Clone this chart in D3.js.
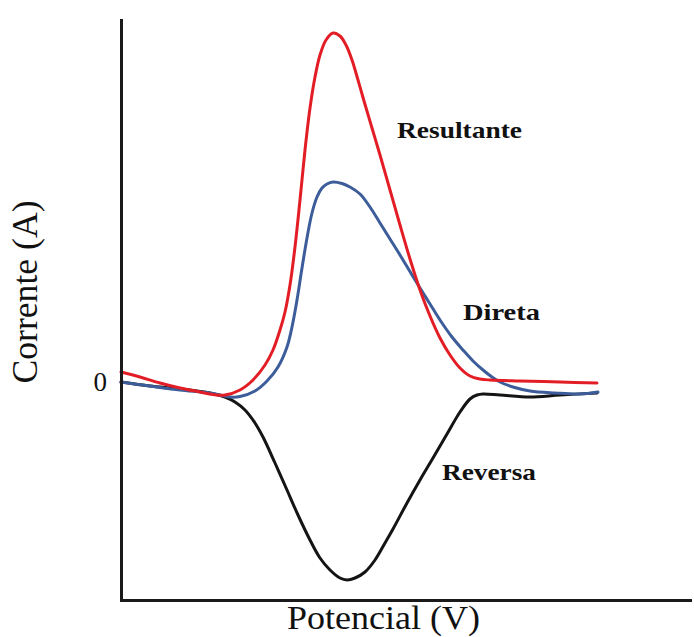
<!DOCTYPE html>
<html>
<head>
<meta charset="utf-8">
<script src="https://cdn.jsdelivr.net/npm/d3@7"></script>
<style>
  html, body { margin: 0; padding: 0; background: #fff; }
  svg { display: block; }
  text { font-family: "Liberation Serif", "Times New Roman", serif; fill: #111; }
</style>
</head>
<body>
<svg id="chart" width="694" height="637"></svg>
<script>
// Square-wave voltammogram: forward (Direta), reverse (Reversa) and net (Resultante) currents.
// Potential in arbitrary mV offsets, current in arbitrary units (0 = baseline).
const resultantePotential = [0, 19, 39, 59, 79, 92, 104, 119, 132, 144, 152, 159, 164, 169, 174, 179, 184, 189, 194, 199, 205, 212, 219, 225, 231, 237, 243, 251, 259, 269, 279, 289, 299, 309, 319, 329, 339, 349, 359, 369, 399, 439, 476];
const resultanteCurrent   = [10, 5, -1, -6, -10, -12.5, -13, -8, 2, 17, 32, 52, 70, 97, 135, 182, 232, 274, 305, 327, 342, 349, 346, 337, 322, 302, 281, 254, 227, 192, 157, 123, 92, 66, 44, 27, 14, 6, 3, 2, 1, 0, -1];

const diretaPotential = [0, 29, 59, 89, 109, 119, 134, 146, 157, 166, 171, 176, 181, 186, 191, 196, 201, 206, 212, 221, 229, 239, 249, 259, 269, 279, 291, 299, 309, 319, 331, 342, 352, 362, 371, 379, 392, 409, 434, 459, 477];
const diretaCurrent   = [0, -4, -8, -11, -15, -14.5, -9, 1, 15, 35, 55, 82, 114, 144, 169, 185, 194, 198, 200, 198.5, 195, 188, 175, 159, 143, 127, 107, 94, 78, 62, 45, 32, 21, 12, 5, 0, -5, -9, -11, -12, -10];

const reversaPotential = [0, 29, 59, 89, 104, 114, 124, 134, 142, 154, 166, 177, 189, 199, 209, 219, 226, 234, 244, 254, 264, 272, 286, 299, 312, 326, 339, 349, 356, 362, 379, 409, 439, 476];
const reversaCurrent   = [0, -4, -7, -11, -15, -20, -28, -41, -55, -81, -108, -133, -158, -176, -188, -196, -198, -196, -190, -178, -161, -147, -121, -98, -76, -52, -30, -17, -13, -12, -13, -15, -13, -11];

const yTickValues  = [0];
const xAxisTitle   = "Potencial (V)";
const yAxisTitle   = "Corrente (A)";

// Curve labels, anchored in data coordinates
const labelNames     = ["Resultante", "Direta", "Reversa"];
const labelPotential = [276, 342, 321];
const labelCurrent   = [244, 62, -98];

const svg = d3.select("#chart");

const x = d3.scaleLinear().domain([0, 569]).range([121, 690]);
const y = d3.scaleLinear().domain([-218, 362]).range([600, 20]);

const series = [
  { name: "Reversa",    xs: reversaPotential,    ys: reversaCurrent,    color: "#141414" },
  { name: "Direta",     xs: diretaPotential,     ys: diretaCurrent,     color: "#3c5d9a" },
  { name: "Resultante", xs: resultantePotential, ys: resultanteCurrent, color: "#e31d25" }
];

const line = d3.line()
  .x(d => x(d[0]))
  .y(d => y(d[1]))
  .curve(d3.curveCatmullRom.alpha(0.5));

svg.append("g")
  .selectAll("path")
  .data(series)
  .join("path")
  .attr("d", s => line(s.xs.map((v, i) => [v, s.ys[i]])))
  .attr("fill", "none")
  .attr("stroke", s => s.color)
  .attr("stroke-width", 3)
  .attr("stroke-linejoin", "round")
  .attr("stroke-linecap", "round");

// Axes: plain frame lines, only the zero level is labelled
const yAxis = svg.append("g")
  .attr("transform", `translate(${x(0)},0)`)
  .call(d3.axisLeft(y).tickValues(yTickValues).tickSize(0).tickSizeOuter(0).tickPadding(14).tickFormat(d3.format("d")));
const xAxis = svg.append("g")
  .attr("transform", `translate(0,${y.range()[0]})`)
  .call(d3.axisBottom(x).tickValues([]).tickSizeOuter(0));

[yAxis, xAxis].forEach(g => {
  g.select(".domain")
    .attr("stroke", "#1a1a1a")
    .attr("stroke-width", 3)
    .attr("stroke-linecap", "square");
});
yAxis.selectAll(".tick text")
  .attr("font-family", "Liberation Serif, serif")
  .attr("font-size", 27)
  .attr("fill", "#111");

// Axis titles
svg.append("text")
  .attr("x", 383.5)
  .attr("y", 629)
  .attr("text-anchor", "middle")
  .attr("font-size", 33)
  .attr("textLength", 193)
  .attr("lengthAdjust", "spacingAndGlyphs")
  .text(xAxisTitle);

svg.append("text")
  .attr("transform", "translate(37,292) rotate(-90)")
  .attr("text-anchor", "middle")
  .attr("font-size", 35)
  .attr("textLength", 183)
  .attr("lengthAdjust", "spacingAndGlyphs")
  .text(yAxisTitle);

// Curve labels
const labelWidths = { Resultante: 125, Direta: 77, Reversa: 94 };
svg.append("g")
  .selectAll("text")
  .data(labelNames)
  .join("text")
  .attr("x", (d, i) => x(labelPotential[i]))
  .attr("y", (d, i) => y(labelCurrent[i]))
  .attr("font-size", 23)
  .attr("font-weight", "bold")
  .attr("textLength", d => labelWidths[d])
  .attr("lengthAdjust", "spacingAndGlyphs")
  .text(d => d);
</script>
</body>
</html>
